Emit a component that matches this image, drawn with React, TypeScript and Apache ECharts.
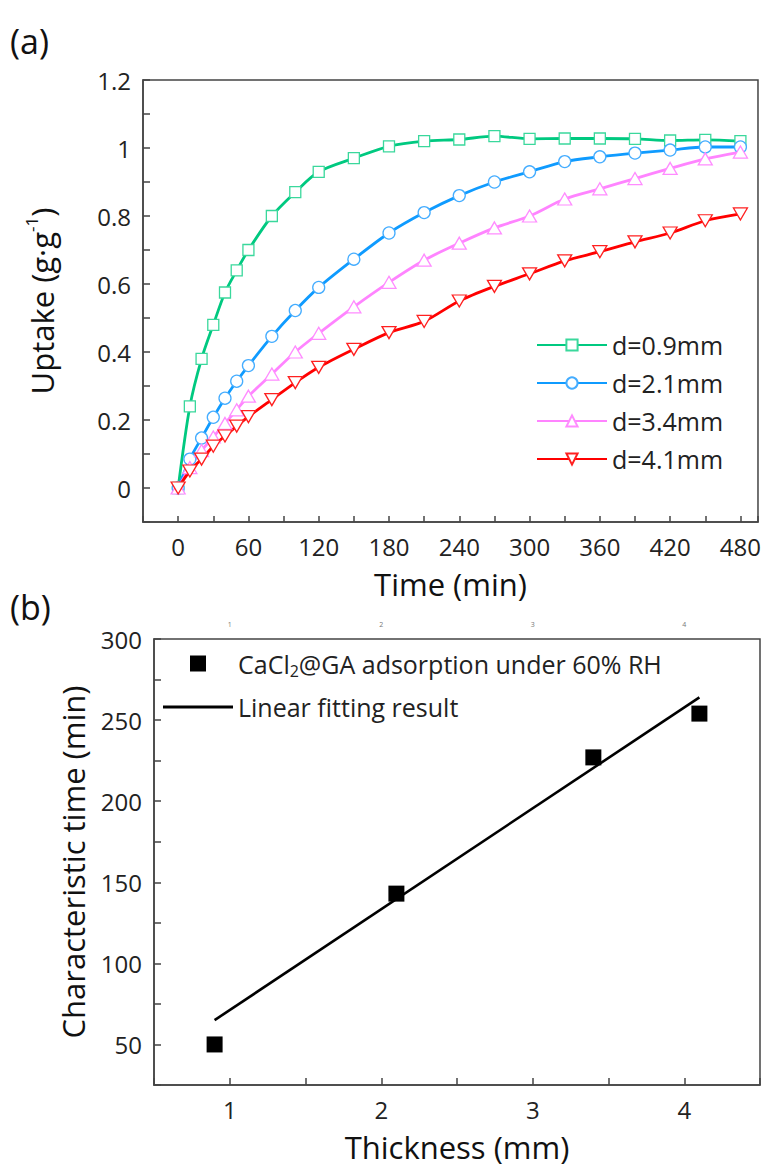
import React, { useEffect, useRef } from "react";
import * as echarts from "echarts";

// ---------- Data ----------
const times = [0, 10, 20, 30, 40, 50, 60, 80, 100, 120, 150, 180, 210, 240, 270, 300, 330, 360, 390, 420, 450, 480];
const uptakeD09 = [0, 0.24, 0.38, 0.48, 0.575, 0.64, 0.7, 0.8, 0.87, 0.93, 0.97, 1.005, 1.02, 1.025, 1.035, 1.027, 1.028, 1.028, 1.027, 1.022, 1.024, 1.02];
const uptakeD21 = [0, 0.085, 0.147, 0.208, 0.264, 0.314, 0.36, 0.446, 0.522, 0.59, 0.673, 0.75, 0.81, 0.86, 0.9, 0.93, 0.96, 0.974, 0.985, 0.994, 1.003, 1.003];
const uptakeD34 = [0, 0.06, 0.11, 0.15, 0.19, 0.23, 0.27, 0.335, 0.4, 0.455, 0.533, 0.605, 0.67, 0.72, 0.765, 0.8, 0.85, 0.88, 0.91, 0.94, 0.968, 0.988];
const uptakeD41 = [0, 0.05, 0.085, 0.123, 0.153, 0.182, 0.21, 0.26, 0.31, 0.355, 0.408, 0.457, 0.49, 0.55, 0.593, 0.63, 0.668, 0.695, 0.724, 0.75, 0.786, 0.806];
const seriesNames = ["d=0.9mm", "d=2.1mm", "d=3.4mm", "d=4.1mm"];

const thickness = [0.9, 2.1, 3.4, 4.1];
const charTime = [50, 143, 227, 254];
const fitThickness = [0.9, 4.1];
const fitTime = [65, 264];
const scatterName = "CaCl2@GA adsorption under 60% RH";
const fitName = "Linear fitting result";

const FONT = "'Open Sans', 'Noto Sans', sans-serif";

const pairs = (xs: number[], ys: number[]) => xs.map((x, i) => [x, ys[i]]);

export default function App() {
  const ref = useRef<HTMLDivElement>(null);
  useEffect(() => {
    if (!ref.current) return;
    const chart = echarts.init(ref.current, undefined, { renderer: "svg" });

    const axisLineStyle = { color: "#444", width: 1.5 };
    const labelStyle = { color: "#222", fontSize: 24, fontFamily: FONT };

    const lineSeries = (name: string, data: number[], lineColor: string, markColor: string, symbol: string, size: any) => ({
      name,
      type: "line",
      xAxisIndex: 0,
      yAxisIndex: 0,
      data: pairs(times, data),
      smooth: 0.3,
      symbol,
      symbolSize: size,
      showSymbol: true,
      lineStyle: { color: lineColor, width: 2.8 },
      itemStyle: { color: "#ffffff", borderColor: markColor, borderWidth: 1.3 },
      color: lineColor,
      z: 3,
    });

    const option: any = {
      animation: false,
      backgroundColor: "#ffffff",
      textStyle: { fontFamily: FONT },
      grid: [
        { left: 143, top: 80, width: 617, height: 442, show: true, borderColor: "#444", borderWidth: 1.5, backgroundColor: "transparent" },
        { left: 154, top: 639, width: 606, height: 446, show: true, borderColor: "#444", borderWidth: 1.5, backgroundColor: "transparent" },
      ],
      xAxis: [
        {
          gridIndex: 0,
          type: "value",
          min: -30,
          max: 495,
          interval: 30,
          name: "Time (min)",
          nameLocation: "middle",
          nameGap: 46,
          nameTextStyle: { fontSize: 31, color: "#111", fontFamily: FONT },
          axisLine: { onZero: false, lineStyle: axisLineStyle },
          axisTick: { inside: true, length: 6, lineStyle: axisLineStyle },
          axisLabel: {
            ...labelStyle,
            margin: 12,
            formatter: (v: number) => (v >= 0 && Math.round(v) % 60 === 0 ? String(Math.round(v)) : ""),
          },
          splitLine: { show: false },
        },
        {
          gridIndex: 1,
          type: "value",
          min: 0.5,
          max: 4.5,
          interval: 0.5,
          name: "Thickness (mm)",
          nameLocation: "middle",
          nameGap: 46,
          nameTextStyle: { fontSize: 31, color: "#111", fontFamily: FONT },
          axisLine: { onZero: false, lineStyle: axisLineStyle },
          axisTick: { inside: true, length: 7, lineStyle: axisLineStyle },
          axisLabel: {
            ...labelStyle,
            margin: 12,
            formatter: (v: number) => (Math.abs(v - Math.round(v)) < 1e-6 ? String(Math.round(v)) : ""),
          },
          splitLine: { show: false },
        },
        {
          gridIndex: 1,
          type: "value",
          position: "top",
          min: 0.5,
          max: 4.5,
          interval: 0.5,
          axisLine: { show: false, onZero: false },
          axisTick: { show: false },
          axisLabel: {
            color: "#777",
            fontSize: 7,
            fontFamily: FONT,
            margin: 11,
            formatter: (v: number) => (Math.abs(v - Math.round(v)) < 1e-6 ? String(Math.round(v)) : ""),
          },
          splitLine: { show: false },
        },
      ],
      yAxis: [
        {
          gridIndex: 0,
          type: "value",
          min: -0.1,
          max: 1.2,
          interval: 0.1,
          name: "{a|Uptake (g·g}{b|-1}{a|)}",
          nameLocation: "middle",
          nameGap: 82,
          nameRotate: 90,
          nameTextStyle: {
            color: "#111",
            fontFamily: FONT,
            rich: {
              a: { fontSize: 31, color: "#111", fontFamily: FONT, lineHeight: 38 },
              b: { fontSize: 17, color: "#111", fontFamily: FONT, verticalAlign: "top", lineHeight: 18 },
            },
          },
          axisLine: { onZero: false, lineStyle: axisLineStyle },
          axisTick: { inside: true, length: 7, lineStyle: axisLineStyle },
          axisLabel: {
            ...labelStyle,
            margin: 12,
            formatter: (v: number) => {
              const k = Math.round(v * 10);
              return k >= 0 && k % 2 === 0 ? String(k / 10) : "";
            },
          },
          splitLine: { show: false },
        },
        {
          gridIndex: 1,
          type: "value",
          min: 25,
          max: 300,
          interval: 25,
          name: "Characteristic time (min)",
          nameLocation: "middle",
          nameGap: 66,
          nameRotate: 90,
          nameTextStyle: { fontSize: 31, color: "#111", fontFamily: FONT },
          axisLine: { onZero: false, lineStyle: axisLineStyle },
          axisTick: { inside: true, length: 7, lineStyle: axisLineStyle },
          axisLabel: {
            ...labelStyle,
            margin: 12,
            formatter: (v: number) => (Math.round(v) % 50 === 0 ? String(Math.round(v)) : ""),
          },
          splitLine: { show: false },
        },
      ],
      legend: [
        {
          data: seriesNames,
          orient: "vertical",
          left: 531,
          top: 326,
          itemWidth: 70,
          itemHeight: 14,
          itemGap: 10,
          textStyle: { fontSize: 25, color: "#222", fontFamily: FONT, lineHeight: 28 },
        },
        {
          data: [
            { name: scatterName, icon: "path://M0,0H16V16H0Z", itemStyle: { color: "#000000", opacity: 1 } },
            { name: fitName, icon: "path://M0,0H70V3H0Z", itemStyle: { color: "#000000", opacity: 1 } },
          ],
          orient: "vertical",
          left: 158,
          top: 646,
          itemWidth: 70,
          itemHeight: 16,
          itemGap: 16,
          symbolKeepAspect: true,
          formatter: (name: string) =>
            name === scatterName
              ? "{n|CaCl}{s|2}{n|@GA adsorption under 60% RH}"
              : "{n|Linear fitting result}",
          textStyle: {
            fontFamily: FONT,
            rich: {
              n: { fontSize: 25, color: "#222", fontFamily: FONT, lineHeight: 30 },
              s: { fontSize: 16, color: "#222", fontFamily: FONT, verticalAlign: "bottom", lineHeight: 14 },
            },
          },
        },
      ],
      graphic: [
        { type: "text", left: 10, top: 24, style: { text: "(a)", fontSize: 34, fill: "#111", fontFamily: FONT } },
        { type: "text", left: 10, top: 590, style: { text: "(b)", fontSize: 34, fill: "#111", fontFamily: FONT } },
      ],
      series: [
        lineSeries(seriesNames[0], uptakeD09, "#00c980", "#3ad89c", "rect", 11),
        lineSeries(seriesNames[1], uptakeD21, "#0f9bff", "#45adff", "circle", 12),
        lineSeries(seriesNames[2], uptakeD34, "#ff84ff", "#ff8cff", "triangle", [14, 12]),
        lineSeries(seriesNames[3], uptakeD41, "#ff0000", "#ff2020", "path://M0,0L10,0L5,8.66Z", [14, 12]),
        {
          name: fitName,
          type: "line",
          xAxisIndex: 1,
          yAxisIndex: 1,
          data: pairs(fitThickness, fitTime),
          symbol: "none",
          color: "#000000",
          lineStyle: { color: "#000000", width: 2.6 },
          z: 2,
        },
        {
          name: scatterName,
          type: "scatter",
          xAxisIndex: 1,
          yAxisIndex: 1,
          data: pairs(thickness, charTime),
          symbol: "rect",
          symbolSize: 16,
          color: "#000000",
          itemStyle: { color: "#000000", opacity: 1 },
          z: 3,
        },
      ],
    };

    chart.setOption(option);
    return () => chart.dispose();
  }, []);

  return (
    <div
      ref={ref}
      style={{ position: "absolute", left: 0, top: 0, width: 764, height: 1169, background: "#fff" }}
    />
  );
}
